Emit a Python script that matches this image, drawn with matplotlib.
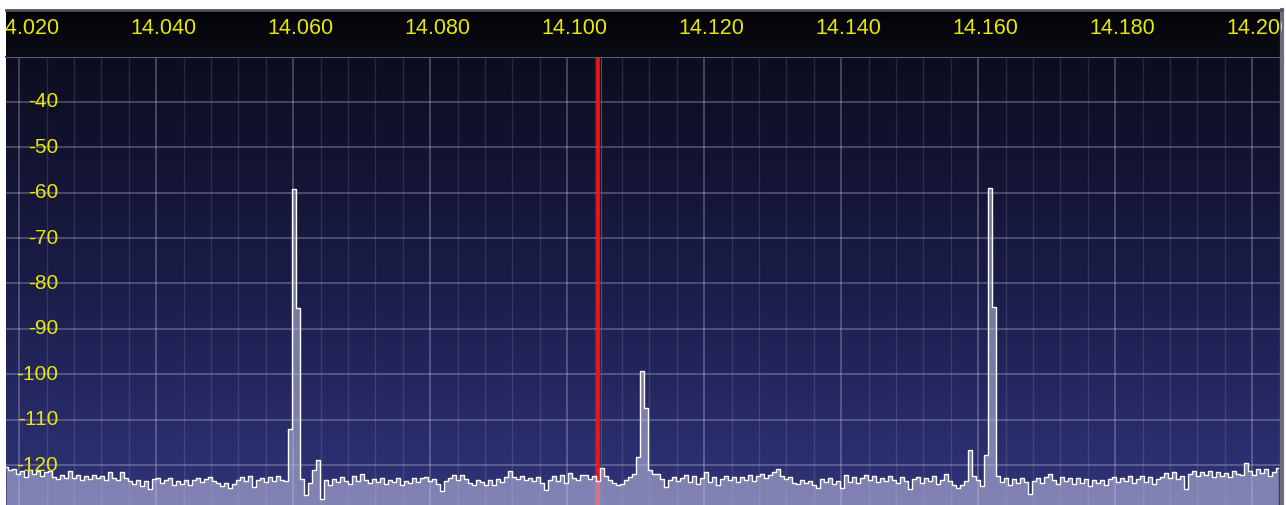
import numpy as np
import matplotlib
matplotlib.use("Agg")
import matplotlib.pyplot as plt
import matplotlib.transforms as mtransforms
from matplotlib.ticker import MultipleLocator
from matplotlib.colors import LinearSegmentedColormap

# spectrum trace, dBm, one value every ~0.000584 MHz starting at 14.0171 MHz
f_start = 14.0171
f_step = 0.000584
levels = [
    -120.5, -121.0, -120.8, -121.9, -121.3, -122.6, -121.1, -122.0, -121.4, -122.4,
    -121.6, -121.2, -122.7, -123.1, -122.3, -122.9, -121.4, -122.8, -122.1, -123.4,
    -122.5, -123.0, -122.2, -122.9, -122.4, -123.2, -121.6, -122.8, -123.3, -121.5,
    -122.9, -123.6, -124.2, -123.3, -124.6, -123.5, -125.3, -123.0, -122.8, -124.0,
    -123.2, -122.9, -124.3, -123.6, -124.1, -123.4, -124.5, -123.2, -122.9, -123.8,
    -123.0, -122.6, -123.5, -124.0, -124.7, -123.9, -125.0, -124.2, -123.4, -122.7,
    -123.6, -122.5, -124.8, -123.3, -122.9, -123.8, -122.7, -123.5, -122.5, -123.4,
    -123.6, -112.0, -59.2, -85.5, -123.0, -126.6, -124.0, -121.0, -118.9, -127.5,
    -123.2, -124.4, -123.0, -123.8, -122.6, -123.5, -124.2, -122.4, -123.6, -121.9,
    -123.4, -124.0, -123.1, -123.7, -122.9, -124.2, -123.4, -123.8, -122.9, -124.3,
    -123.5, -124.0, -122.8, -123.7, -122.9, -122.6, -123.6, -123.0, -124.1, -125.8,
    -123.6, -122.9, -122.2, -123.4, -122.3, -123.1, -123.9, -124.5, -123.2, -123.8,
    -124.4, -123.3, -124.3, -123.0, -123.7, -122.6, -121.2, -122.6, -123.1, -122.5,
    -123.4, -122.8, -123.6, -122.6, -124.0, -125.6, -123.2, -122.4, -123.5, -122.2,
    -123.9, -121.8, -122.9, -123.4, -122.3, -122.1, -123.0, -122.4, -123.6, -120.7,
    -122.5, -123.3, -123.9, -124.4, -124.1, -123.2, -122.6, -121.9, -118.2, -99.2,
    -107.4, -121.0, -122.0, -121.9, -123.0, -124.8, -123.4, -122.6, -123.5, -122.8,
    -122.2, -123.7, -122.5, -124.2, -122.9, -121.5, -123.8, -122.7, -124.5, -123.1,
    -122.4, -123.3, -122.6, -123.8, -122.7, -123.4, -122.3, -123.6, -122.5, -122.0,
    -122.8, -122.1, -121.5, -120.8, -122.4, -123.1, -122.7, -123.9, -124.1, -123.3,
    -124.0, -123.5, -124.4, -125.0, -123.0, -123.8, -122.9, -124.2, -123.6, -125.1,
    -122.3, -123.7, -122.6, -123.9, -122.8, -122.1, -123.4, -122.5, -123.8, -122.9,
    -123.5, -122.4, -123.2, -124.0, -122.7, -123.6, -125.2, -123.0, -122.6, -123.9,
    -122.8, -123.5, -122.4, -124.1, -123.2, -122.0, -123.6, -124.3, -125.1, -124.4,
    -123.5, -116.7, -122.5, -123.3, -124.6, -117.8, -58.9, -85.2, -122.4, -123.8,
    -122.9, -124.3, -123.1, -124.0, -122.9, -123.7, -126.4, -123.5, -122.8, -123.9,
    -122.6, -121.9, -123.2, -124.1, -122.7, -123.6, -122.9, -124.2, -122.8, -123.9,
    -123.1, -124.7, -123.4, -124.0, -123.2, -124.3, -123.0, -122.6, -123.7, -122.8,
    -123.5, -122.4, -123.9, -123.1, -122.5, -123.8, -122.7, -124.1, -123.0, -122.6,
    -121.8, -122.9, -121.6, -123.1, -122.4, -125.3, -122.0, -121.2, -122.5, -121.6,
    -122.3, -121.4, -122.7, -121.5, -122.4, -121.8, -122.6, -121.3, -121.9, -122.2,
    -119.5, -121.4, -122.1, -120.9, -121.7, -120.8, -122.4, -121.6, -120.6,
]
freq = f_start + f_step * np.arange(len(levels))

label_freqs = [14.020, 14.040, 14.060, 14.080, 14.100, 14.120, 14.140, 14.160, 14.180, 14.200]
db_labels = [-40, -50, -60, -70, -80, -90, -100, -110, -120]
marker_freq = 14.1035

yellow = "#e8e800"
W, H = 1286, 505
f_lo, f_hi = 14.01708, 14.20336
db_lo, db_hi = -128.8, -30.1

fig = plt.figure(figsize=(W / 100, H / 100), dpi=100, facecolor="white")
ax = fig.add_axes([6 / W, 0, 1276 / W, (H - 57) / H])
hdr = fig.add_axes([6 / W, (H - 57) / H, 1276 / W, 47 / H])

# background gradients (row 0 = top)
bg = LinearSegmentedColormap.from_list("bg", ["#0c0d1f", "#1a1c48", "#30347a"])
ax.imshow(np.linspace(0, 1, 256).reshape(-1, 1), cmap=bg, aspect="auto",
          extent=[0, 1, 0, 1], origin="upper", transform=ax.transAxes, zorder=0)
hb = LinearSegmentedColormap.from_list("hb", ["#020204", "#0c0c16"])
hdr.imshow(np.linspace(0, 1, 64).reshape(-1, 1), cmap=hb, aspect="auto",
           extent=[0, 1, 0, 1], origin="upper", transform=hdr.transAxes, zorder=0)

ax.set_xlim(f_lo, f_hi)
ax.set_ylim(db_lo, db_hi)
hdr.set_xlim(f_lo, f_hi)
hdr.set_ylim(0, 1)

# grid
ax.xaxis.set_major_locator(MultipleLocator(0.02, offset=0.019))
ax.xaxis.set_minor_locator(MultipleLocator(0.004, offset=0.003))
ax.yaxis.set_major_locator(MultipleLocator(10))
ax.grid(which="major", axis="x", color="#c8c8e0", alpha=0.35, lw=1.2, zorder=1)
ax.grid(which="minor", axis="x", color="#c8c8e0", alpha=0.15, lw=1.0, zorder=1)
ax.grid(which="major", axis="y", color="#c8c8e0", alpha=0.35, lw=1.2, zorder=1)
ax.tick_params(which="both", length=0, labelbottom=False, labelleft=False)

# tuned frequency marker
ax.axvline(marker_freq, color="#ff1010", lw=2.6, zorder=2)
ax.axvline(marker_freq + 0.0005, color="#2a6a3a", lw=0.8, zorder=2)

# spectrum trace
ax.fill_between(freq, levels, db_lo - 5, step="mid", color="#c4c4e4", alpha=0.55,
                lw=0, zorder=3)
ax.step(freq, levels, where="mid", color="white", lw=1.0, zorder=4)

# dB labels inside the plot
ytrans = mtransforms.blended_transform_factory(ax.transAxes, ax.transData)
for v in db_labels:
    ax.text(0.0408, v, str(v), transform=ytrans, ha="right", va="center",
            color=yellow, fontsize=15, family="Liberation Sans", zorder=5)

# frequency labels in the header band
xtrans = mtransforms.blended_transform_factory(hdr.transData, hdr.transAxes)
for f in label_freqs:
    hdr.text(f, 0.6, f"{f:.3f}", transform=xtrans, ha="center", va="center",
             color=yellow, fontsize=15.5, family="Liberation Sans", clip_on=True)
hdr.set_xticks([])
hdr.set_yticks([])

for a in (ax, hdr):
    for s in a.spines.values():
        s.set_visible(False)
ax.spines["top"].set_visible(True)
ax.spines["top"].set_color("#5a5a70")
ax.spines["top"].set_linewidth(1.5)
hdr.spines["top"].set_visible(True)
hdr.spines["top"].set_color("#50505c")
hdr.spines["top"].set_linewidth(2)
for a in (ax, hdr):
    a.spines["right"].set_visible(True)
    a.spines["right"].set_color("#6c6c78")
    a.spines["right"].set_linewidth(3)

fig.savefig("out.png", dpi=100, facecolor="white")
